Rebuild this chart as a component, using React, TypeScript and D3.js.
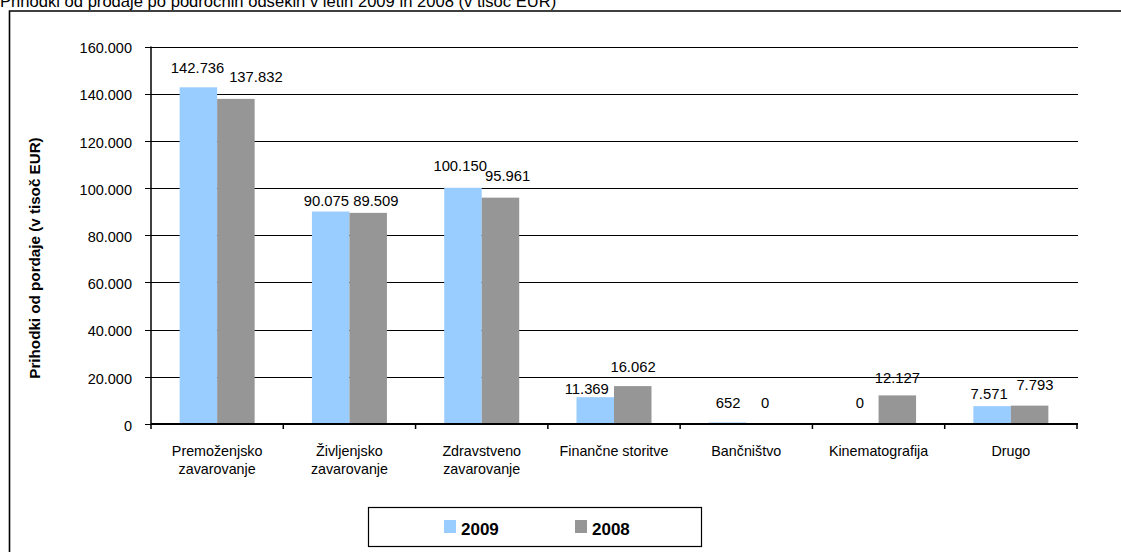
import React from "react";
import * as d3 from "d3";

const categories = [
  "Premoženjsko\nzavarovanje",
  "Življenjsko\nzavarovanje",
  "Zdravstveno\nzavarovanje",
  "Finančne storitve",
  "Bančništvo",
  "Kinematografija",
  "Drugo",
];
const seriesNames = ["2009", "2008"];
const values2009 = [142736, 90075, 100150, 11369, 652, 0, 7571];
const values2008 = [137832, 89509, 95961, 16062, 0, 12127, 7793];
const yTicks = [0, 20000, 40000, 60000, 80000, 100000, 120000, 140000, 160000];

// manual label nudges seen in the reference (dx, dy from bar top)
const labelDx2009 = [-0.8, -4.3, -2.8, -8.5, 0.5, 0, -3];
const labelDy2009 = [-14, -6, -17, -2.7, -14, -15.7, -7.3];
const labelDx2008 = [20, 7.7, 7.2, 0.3, 0, 0, 5.3];
const labelDy2008 = [-16.7, -7, -16.7, -14.3, -15.7, -12.6, -15.3];

const colors = ["#99CCFF", "#969696"];
const FONT = "Arial, 'Liberation Sans', sans-serif";

const locale = d3.formatLocale({ thousands: ".", grouping: [3], decimal: ",", currency: ["", "€"] });
const fmt = locale.format(",d");

export default function App() {
  const W = 1121, H = 552;
  const left = 151, right = 1077, top = 46.6, bottom = 424;
  const x0 = d3.scaleBand<string>().domain(categories).range([left, right]);
  const bw = x0.bandwidth();
  const groupW = 75;
  const x1 = d3.scaleBand<string>().domain(seriesNames).range([(bw - groupW) / 2, (bw + groupW) / 2]);
  const y = d3.scaleLinear().domain([0, 160000]).range([bottom, top]);
  const seriesVals = [values2009, values2008];
  const dxs = [labelDx2009, labelDx2008];
  const dys = [labelDy2009, labelDy2008];
  const boundaries = d3.range(categories.length + 1).map((i) => left + i * bw);

  return (
    <svg width={W} height={H} style={{ position: "absolute", left: 0, top: 0, background: "#fff" }} fontFamily={FONT}>
      <rect x={0} y={0} width={W} height={H} fill="#fff" />
      <text x={0} y={7} fontSize={16.6} fill="#000">
        Prihodki od prodaje po področnih odsekih v letih 2009 in 2008 (v tisoč EUR)
      </text>
      <path d={`M9.5,${H + 5} V11 H${W + 5}`} fill="none" stroke="#000" strokeWidth={1.6} />

      {/* gridlines */}
      {yTicks.slice(1).map((t) => (
        <line key={"g" + t} x1={left} x2={1078} y1={Math.round(y(t)) + 0.5} y2={Math.round(y(t)) + 0.5} stroke="#000" strokeWidth={1} />
      ))}

      {/* bars */}
      {seriesNames.map((s, si) =>
        categories.map((c, ci) => {
          const v = seriesVals[si][ci];
          const bx = (x0(c) as number) + (x1(s) as number);
          return (
            <rect key={s + c} x={bx} y={y(v)} width={x1.bandwidth()} height={bottom - y(v)} fill={colors[si]} />
          );
        })
      )}

      {/* y axis */}
      <line x1={left} x2={left} y1={top} y2={bottom} stroke="#000" strokeWidth={1.5} />
      {yTicks.map((t) => (
        <g key={"t" + t}>
          <line x1={left - 6} x2={left} y1={Math.round(y(t)) + 0.5} y2={Math.round(y(t)) + 0.5} stroke="#000" strokeWidth={1} />
          <text x={132} y={y(t) + 6.7} fontSize={14.5} textAnchor="end" fill="#000">
            {fmt(t)}
          </text>
        </g>
      ))}

      {/* x axis */}
      <line x1={left} x2={right + 1} y1={bottom} y2={bottom} stroke="#000" strokeWidth={2} />
      {boundaries.map((b, i) => (
        <line key={"b" + i} x1={b} x2={b} y1={bottom} y2={bottom + 5} stroke="#000" strokeWidth={1.5} />
      ))}
      {categories.map((c) => {
        const lines = c.split("\n");
        const cx = (x0(c) as number) + bw / 2;
        return (
          <text key={"c" + c} x={cx} y={456} fontSize={14.3} textAnchor="middle" fill="#000">
            {lines.map((l, li) => (
              <tspan key={li} x={cx} dy={li === 0 ? 0 : 17.5}>
                {l}
              </tspan>
            ))}
          </text>
        );
      })}

      {/* value labels */}
      {seriesNames.map((s, si) =>
        categories.map((c, ci) => {
          const v = seriesVals[si][ci];
          const cx = (x0(c) as number) + (x1(s) as number) + x1.bandwidth() / 2 + dxs[si][ci];
          return (
            <text key={"l" + s + c} x={cx} y={y(v) + dys[si][ci]} fontSize={14.8} textAnchor="middle" fill="#000">
              {fmt(v)}
            </text>
          );
        })
      )}

      {/* y title */}
      <text transform={`translate(39.5,258) rotate(-90)`} fontSize={15.2} fontWeight="bold" textAnchor="middle" fill="#000">
        Prihodki od pordaje (v tisoč EUR)
      </text>

      {/* legend */}
      <rect x={368.5} y={507.5} width={333} height={39} fill="#fff" stroke="#000" strokeWidth={1.2} />
      {seriesNames.map((s, si) => {
        const lx = [444, 575][si];
        return (
          <g key={"lg" + s}>
            <rect x={lx} y={520} width={12} height={13} fill={colors[si]} />
            <text x={lx + 17} y={535} fontSize={17} fontWeight="bold" fill="#000">
              {s}
            </text>
          </g>
        );
      })}
    </svg>
  );
}
